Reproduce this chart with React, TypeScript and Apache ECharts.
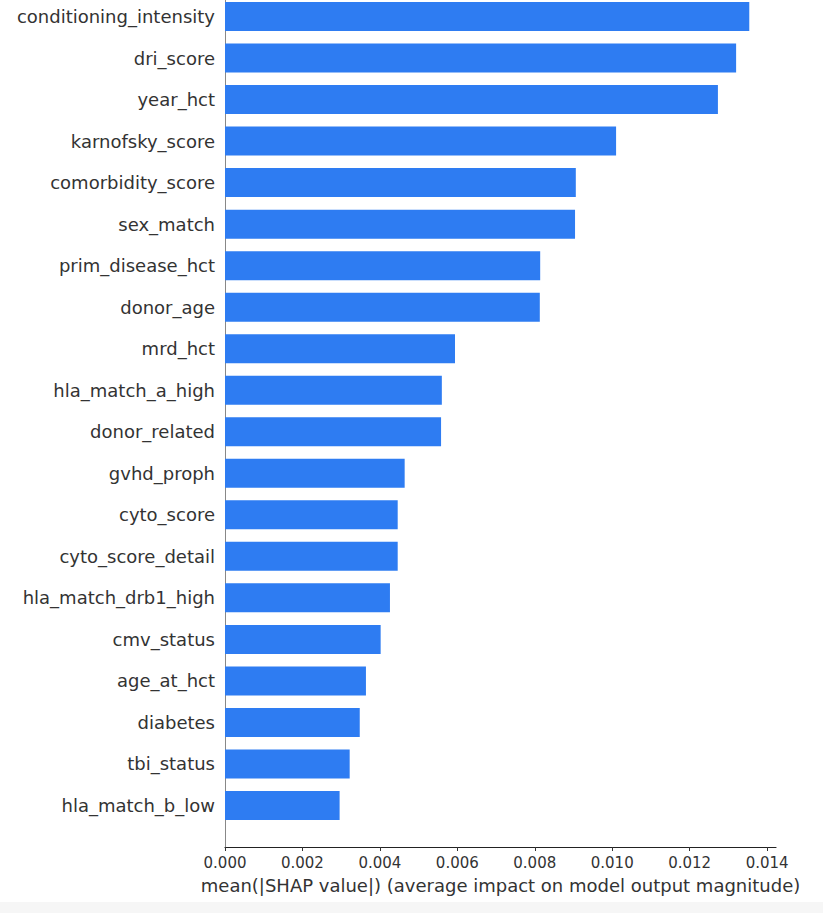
import React, { useEffect, useRef } from "react";
import * as echarts from "echarts";

// Features listed top to bottom
const features = [
  "conditioning_intensity",
  "dri_score",
  "year_hct",
  "karnofsky_score",
  "comorbidity_score",
  "sex_match",
  "prim_disease_hct",
  "donor_age",
  "mrd_hct",
  "hla_match_a_high",
  "donor_related",
  "gvhd_proph",
  "cyto_score",
  "cyto_score_detail",
  "hla_match_drb1_high",
  "cmv_status",
  "age_at_hct",
  "diabetes",
  "tbi_status",
  "hla_match_b_low",
];

const meanAbsShap = [
  0.01354, 0.0132, 0.01273, 0.0101, 0.00906, 0.00904, 0.00814, 0.00813,
  0.00594, 0.0056, 0.00558, 0.00464, 0.00446, 0.00446, 0.00426, 0.00402,
  0.00364, 0.00348, 0.00322, 0.00296,
];

const xTicks = [0, 0.002, 0.004, 0.006, 0.008, 0.01, 0.012, 0.014];
const xAxisTitle = "mean(|SHAP value|) (average impact on model output magnitude)";

export default function App() {
  const ref = useRef<HTMLDivElement>(null);

  useEffect(() => {
    if (!ref.current) return;
    const chart = echarts.init(ref.current, null, { renderer: "svg" });
    // bottom-to-top categories with one empty slot at the bottom (matplotlib ylim -1..n)
    const cats = ["", ...features.slice().reverse()];
    const vals: any[] = ["-", ...meanAbsShap.slice().reverse()];
    const font = "DejaVu Sans, sans-serif";

    chart.setOption({
      animation: false,
      backgroundColor: "#ffffff",
      grid: { left: 225, right: 823 - 776, top: 16.5, bottom: 913 - 847, containLabel: false },
      xAxis: {
        type: "value",
        min: 0,
        max: 0.01423,
        interval: 0.002,
        name: xAxisTitle,
        nameLocation: "middle",
        nameGap: 29,
        nameTextStyle: { fontSize: 18, color: "#333333", fontFamily: font },
        axisLine: { show: true, lineStyle: { color: "#222222", width: 1.2 } },
        axisTick: {
          show: true,
          length: 4,
          lineStyle: { color: "#333333" },
          customValues: xTicks,
        },
        axisLabel: {
          fontSize: 15,
          color: "#333333",
          fontFamily: font,
          margin: 8,
          customValues: xTicks,
          formatter: (v: number) => v.toFixed(3),
        },
        splitLine: { show: false },
      },
      yAxis: {
        type: "category",
        data: cats,
        boundaryGap: false,
        axisLine: { show: true, lineStyle: { color: "#888888", width: 1 } },
        axisTick: { show: false },
        axisLabel: {
          fontSize: 18,
          color: "#333333",
          fontFamily: font,
          margin: 10,
        },
        splitLine: { show: false },
      },
      series: [
        {
          type: "bar",
          data: vals,
          barWidth: 29,
          itemStyle: { color: "#2e7cf2" },
          silent: true,
        },
      ],
      graphic: [
        {
          type: "line",
          shape: { x1: 225.5, y1: 0, x2: 225.5, y2: 17 },
          style: { stroke: "#888888", lineWidth: 1 },
          silent: true,
        },
        {
          type: "rect",
          shape: { x: 0, y: 902, width: 823, height: 11 },
          style: { fill: "#f6f6f6" },
          silent: true,
        },
      ],
    });

    return () => chart.dispose();
  }, []);

  return (
    <div
      ref={ref}
      style={{ position: "fixed", left: 0, top: 0, width: 823, height: 913 }}
    />
  );
}
